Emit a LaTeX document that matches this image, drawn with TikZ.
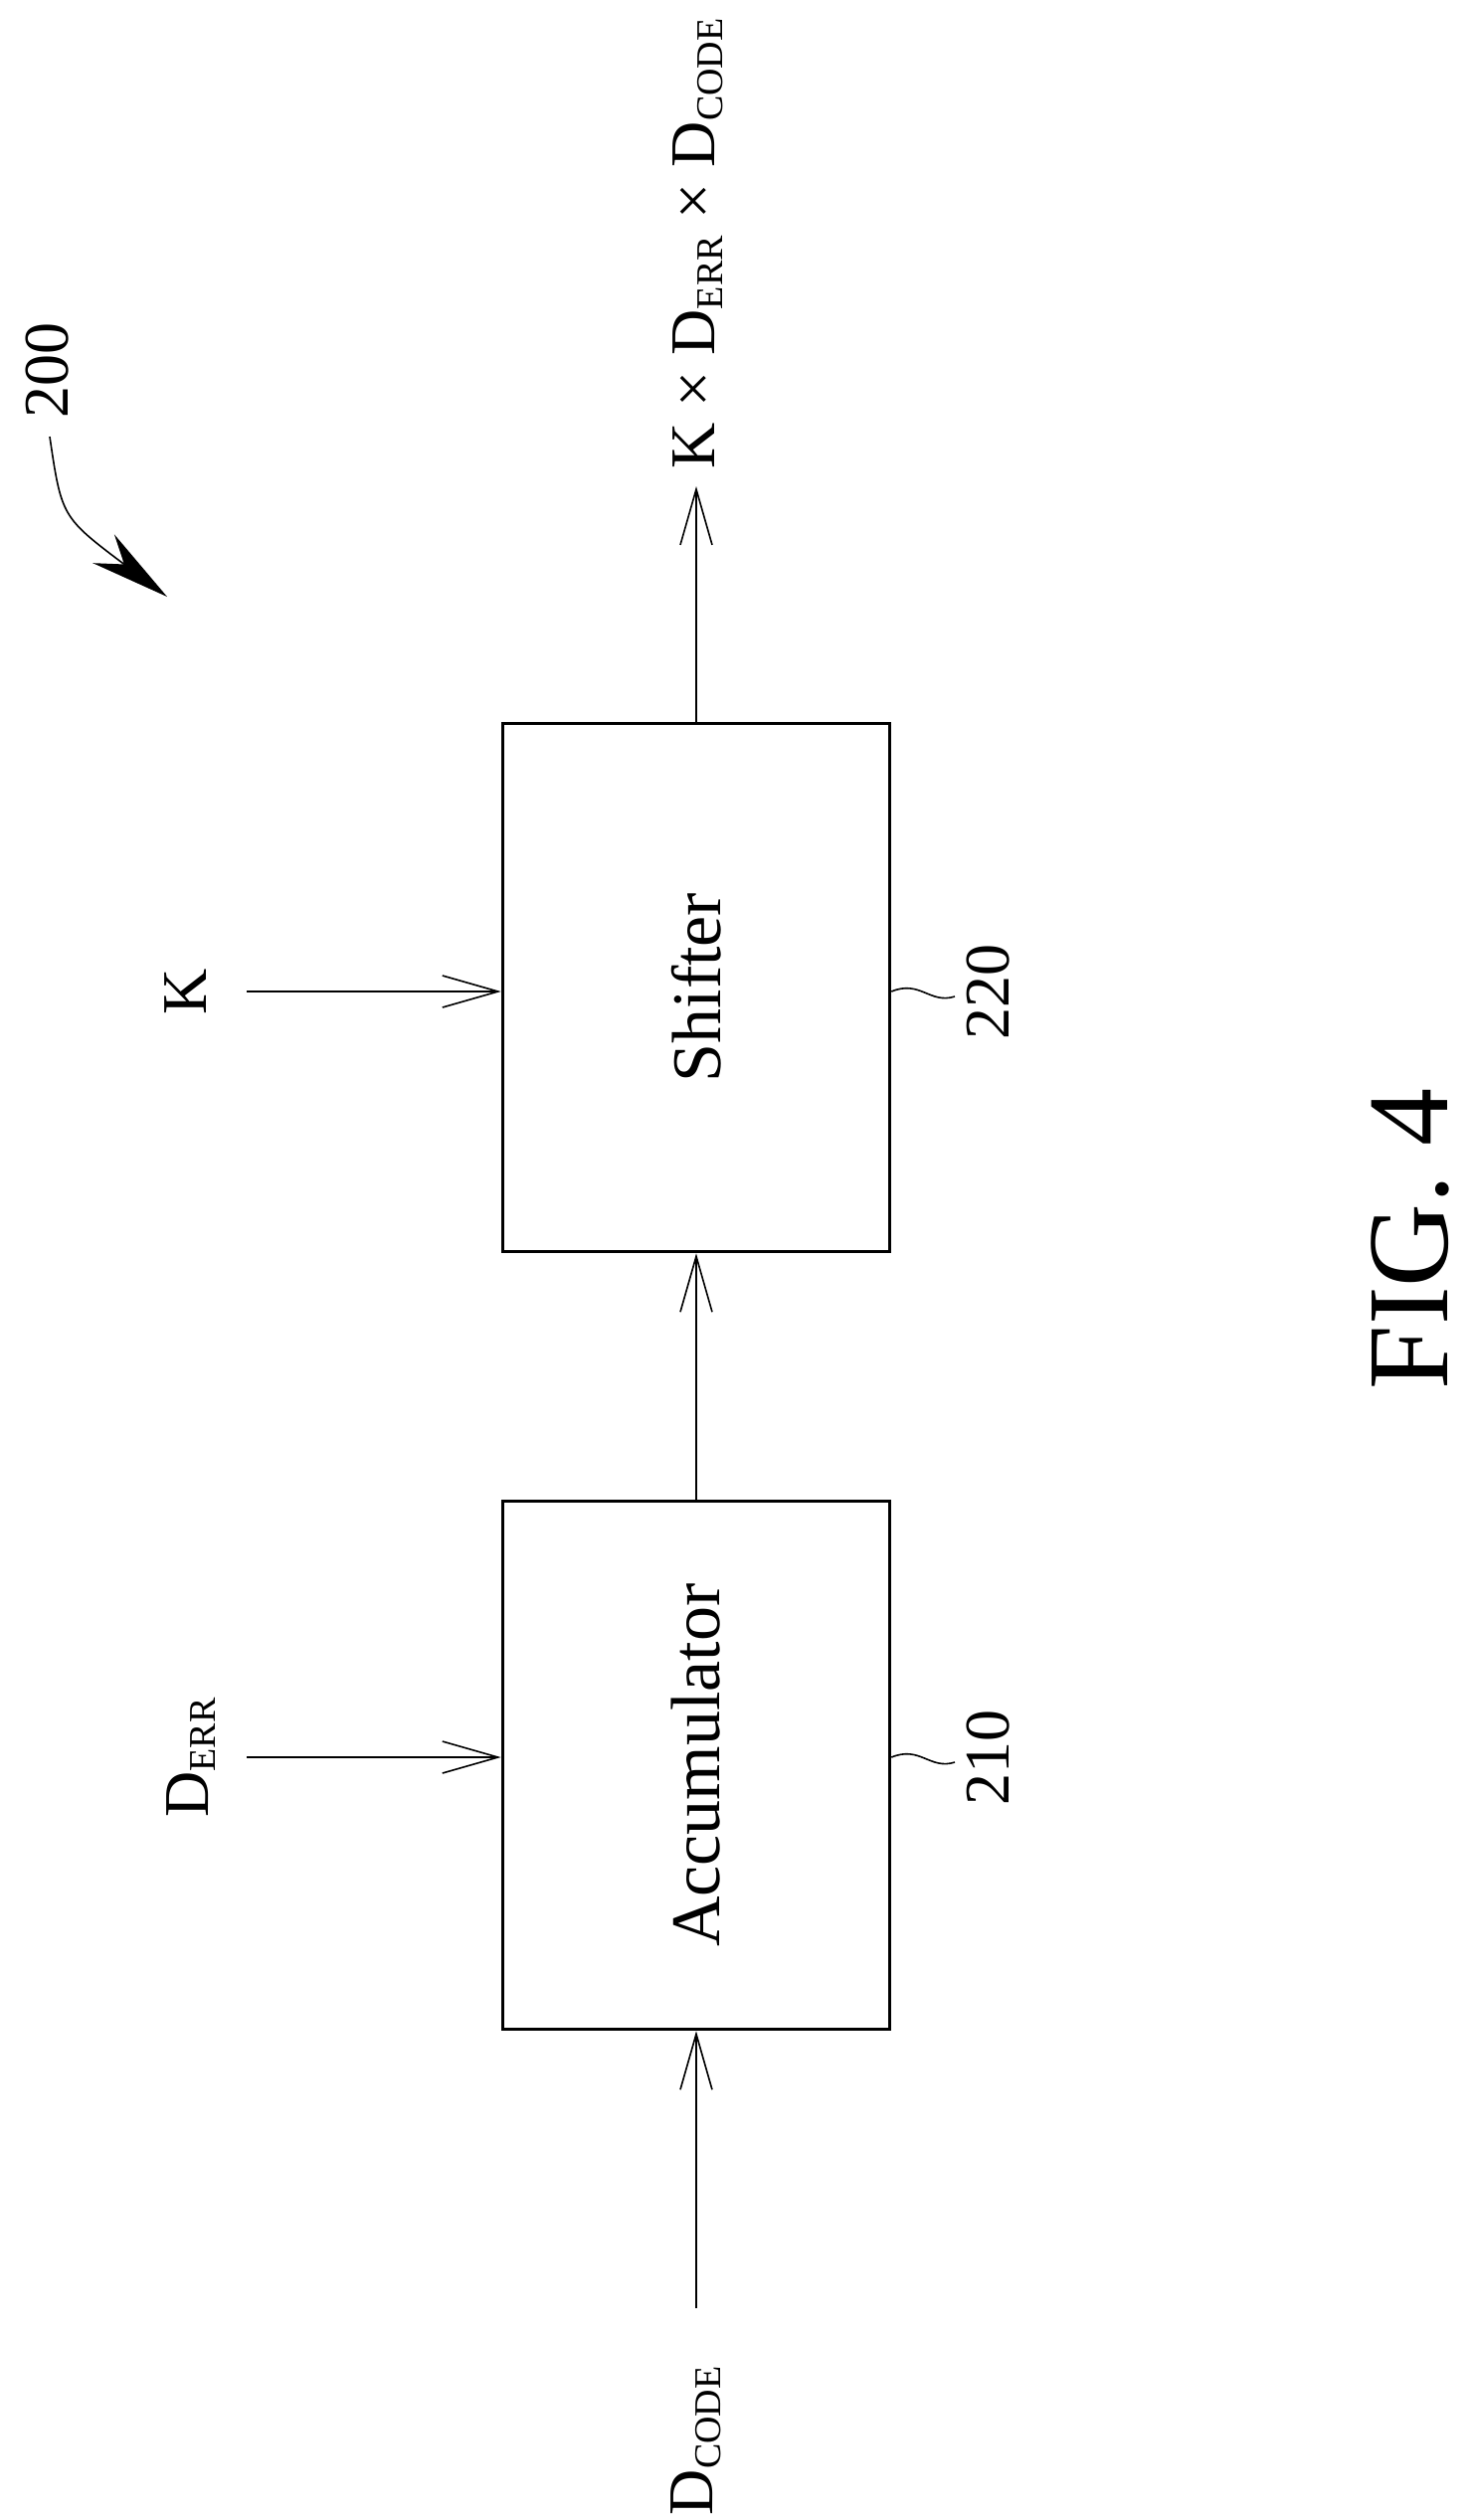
\documentclass[tikz,border=0pt]{standalone}
\usepackage{fontspec}
\setmainfont{Liberation Serif}
\usetikzlibrary{positioning, arrows.meta}
\tikzset{
  block/.style = {rectangle, draw, line width=1.8pt, rotate=90, minimum width=265.5pt, minimum height=194.5pt, font=\fontsize{35}{40}\selectfont},
  lbl/.style   = {rotate=90, inner sep=0pt, font=\fontsize{32}{36}\selectfont},
  num/.style   = {rotate=90, font=\fontsize{32}{36}\selectfont},
  arrow/.style = {-{Straight Barb[length=28pt, width=16pt, line width=0.8pt]}, line width=0.8pt},
}
\newcommand{\sub}[1]{\textsubscript{\fontsize{19}{21}\selectfont #1}}
\begin{document}
\begin{tikzpicture}[x=0.5pt, y=-0.5pt]
    \useasboundingbox (0,0) rectangle (1482,2534);
    % blocks
    \node [block] (shift) at (700,993) {Shifter};
    \node [block] (acc) at (700,1775) {Accumulator};

    % inputs and output
    \coordinate (kin) at (248,997);
    \coordinate (errin) at (248,1767);
    \coordinate (codein) at (700,2321);
    \coordinate (out) at (700,489);
    \node [lbl] (klbl) at (187,997) {K};
    \node [lbl] (errlbl) at (192,1767) {D\sub{ERR}};
    \node [lbl, anchor=east] (codelbl) at (700,2378) {D\sub{CODE}};
    \node [lbl, anchor=west] (outlbl) at (702,472) {K × D\sub{ERR} × D\sub{CODE}};

    % arrows
    \draw [arrow] (kin) -- (kin -| shift.north);
    \draw [arrow] (errin) -- (errin -| acc.north);
    \draw [arrow] (codein) -- (acc.west);
    \draw [arrow] (acc.east) -- (shift.west);
    \draw [arrow] (shift.east) -- (out);

    % reference numbers
    \node [num] (n220) at (994,997) {220};
    \node [num] (n210) at (994,1767) {210};
    \draw [line width=0.8pt] (shift.south |- kin) .. controls (925,985) and (935,1010) .. (960,1002);
    \draw [line width=0.8pt] (acc.south |- errin) .. controls (925,1755) and (935,1780) .. (960,1772);
    \node [num] (n200) at (48,372) {200};
    \coordinate (p200) at (168,600);
    \draw [line width=0.8pt, -{Stealth[length=40pt, width=18pt]}] (n200.west) ++(2,12) .. controls (62,520) .. (p200);

    % figure title
    \node [rotate=90, font=\fontsize{58}{62}\selectfont] (fig) at (1418,1246) {FIG. 4};
\end{tikzpicture}
\end{document}
